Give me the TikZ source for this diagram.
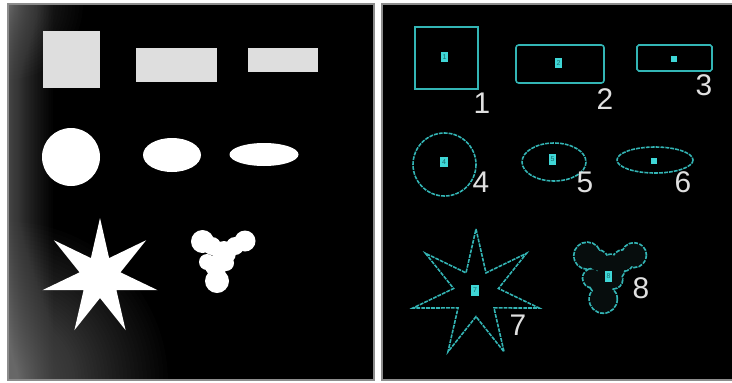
\documentclass[tikz,border=0pt]{standalone}
\usepackage{fontspec}
\setmainfont{Liberation Sans}
\definecolor{shapegray}{HTML}{DEDEDE}
\definecolor{contour}{HTML}{33B5B5}
\definecolor{tagcyan}{HTML}{3FD6D6}
\definecolor{tagtext}{HTML}{1A6A6A}
\definecolor{blobfill}{HTML}{070D0D}
\newcommand\blobparts{202.5/241.5/11.5, 245/241/10.5, 212/246/9, 235/246/9, 224/253/12, 207/262/8, 226/263/8, 216/266/11, 217/281/12}
\tikzset{
  panel/.style={fill=black},
  rim/.style={draw=black!45, line width=0.6pt},
  haze/.style={fill=black!40, opacity=0.02},
  outline/.style={draw=contour, line width=0.9pt},
  contourline/.style={outline, dash pattern=on 2.2pt off 0.6pt},
  tag/.style={fill=tagcyan, text=tagtext, inner sep=0pt, minimum width=4.2pt, minimum height=5.8pt, font=\fontsize{4}{4}\selectfont},
  dot/.style={fill=tagcyan, inner sep=0pt, minimum size=3pt},
  num/.style={text=white!88!black, inner sep=0pt, font=\fontsize{17}{18}\selectfont}
}
\begin{document}
\begin{tikzpicture}[x=0.02cm, y=-0.02cm]
  \useasboundingbox (0,0) rectangle (732,382);
  \fill[white] (0,0) rectangle (732,382);

  \fill[panel] (8,4) rectangle (374,380);
  \begin{scope}
    \clip (8,4) rectangle (374,380);
    \foreach \k in {1,...,50} { \fill[haze] (8,4) rectangle ({8+45*(\k/50)^2},380); }
    \foreach \k in {1,...,40} { \fill[haze] (8,4) circle[radius={75*(\k/40)^2}]; }
    \foreach \k in {1,...,60} { \fill[haze] (8,382) circle[radius={160*(\k/60)^1.6}]; }
  \end{scope}
  \draw[rim] (8,4) rectangle (374,380);
  \fill[shapegray] (43,31) rectangle (100,88);
  \fill[shapegray] (136,48) rectangle (217,82);
  \fill[shapegray] (248,48) rectangle (318,72);
  \fill[white] (71,157) circle[radius=29];
  \fill[white] (172,155) ellipse[x radius=29, y radius=17];
  \fill[white] (264,154.5) ellipse[x radius=34.5, y radius=11.5];
  \fill[white, shift={(100,277)}] (-90:59)
    \foreach \a in {0,...,6} { -- ({-90+\a*360/7+180/7}:21) -- ({-90+(\a+1)*360/7}:59) } -- cycle;
  \foreach \x/\y/\r in \blobparts { \fill[white] (\x,\y) circle[radius=\r]; }

  \fill[panel] (382,4) rectangle (733,380);
  \draw[rim] (382,4) rectangle (733,380);
  \draw[outline] (415,27) rectangle (478,89);
  \draw[outline, rounded corners=1.5pt] (516,45) rectangle (604,83);
  \draw[outline, rounded corners=1pt] (637,45) rectangle (712,71);
  \draw[contourline] (444.5,164.5) circle[radius=31.5];
  \draw[contourline] (554,162) ellipse[x radius=32, y radius=19];
  \draw[contourline] (655,160) ellipse[x radius=38, y radius=13];
  \draw[contourline, shift={(476,293.6)}] (-90:64.6)
    \foreach \a in {0,...,6} { -- ({-90+\a*360/7+180/7}:23) -- ({-90+(\a+1)*360/7}:64.6) } -- cycle;
  \begin{scope}[shift={(364.5,-10)}, scale=1.1]
    \foreach \x/\y/\r in \blobparts { \draw[contourline, line width=2pt] (\x,\y) circle[radius=\r]; }
    \foreach \x/\y/\r in \blobparts { \fill[blobfill] (\x,\y) circle[radius=\r]; }
  \end{scope}

  \node[tag] (t1) at (444.5,57) {1};
  \node[tag] (t2) at (558.5,63) {2};
  \node[dot] (t3) at (674,59) {};
  \node[tag] (t4) at (444,162) {4};
  \node[tag] (t5) at (552.5,159.5) {5};
  \node[dot] (t6) at (654,161) {};
  \node[tag] (t7) at (475,290.5) {7};
  \node[tag] (t8) at (608.5,276.5) {8};

  \node[num] (n1) at (482,103) {1};
  \node[num] (n2) at (605,99) {2};
  \node[num] (n3) at (704,85) {3};
  \node[num] (n4) at (481,182) {4};
  \node[num] (n5) at (585,182) {5};
  \node[num] (n6) at (683,182) {6};
  \node[num] (n7) at (518,325) {7};
  \node[num] (n8) at (641,288) {8};
\end{tikzpicture}
\end{document}
